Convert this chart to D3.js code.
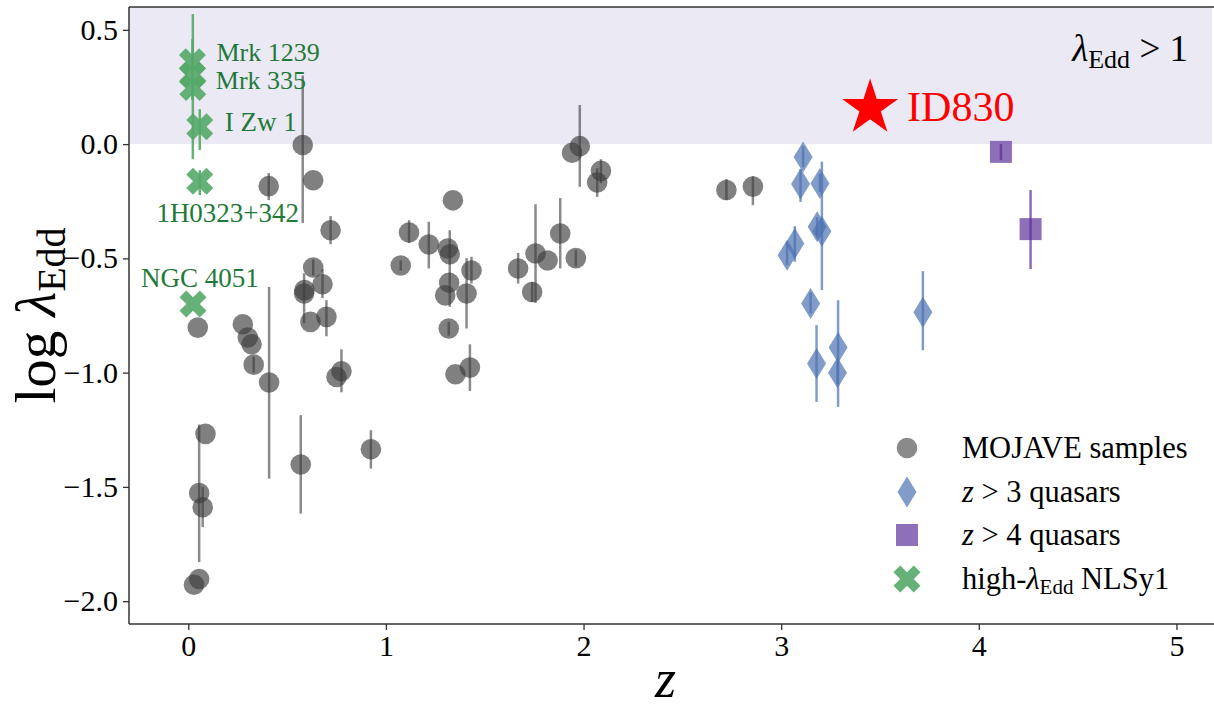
<!DOCTYPE html>
<html><head><meta charset="utf-8">
<script src="https://cdn.jsdelivr.net/npm/d3@7"></script>
<style>
body{margin:0;background:#fff;}
svg{display:block;font-family:"Liberation Serif","Times New Roman",serif;}
</style></head>
<body><svg id="c" width="1214" height="708"></svg>
<script>
// ---- data ----
const mojaveZ   = [0.048,0.055,0.029,0.055,0.073,0.087,0.407,0.579,0.632,0.720,0.632,0.679,0.588,0.586,0.618,0.699,0.775,0.750,0.276,0.301,0.320,0.331,0.409,0.569,0.924,1.339,1.117,1.217,1.313,1.323,1.075,1.433,1.320,1.300,1.408,1.318,1.425,1.352,1.981,1.942,2.088,2.069,1.882,1.757,1.818,1.961,1.669,1.740,2.723,2.857];
const mojaveLog = [-0.803,-1.903,-1.928,-1.527,-1.589,-1.268,-0.184,-0.004,-0.158,-0.377,-0.540,-0.613,-0.639,-0.654,-0.778,-0.756,-0.994,-1.019,-0.788,-0.846,-0.876,-0.965,-1.043,-1.402,-1.335,-0.246,-0.387,-0.439,-0.457,-0.482,-0.531,-0.553,-0.607,-0.662,-0.654,-0.807,-0.978,-1.007,-0.009,-0.038,-0.117,-0.168,-0.391,-0.479,-0.509,-0.499,-0.544,-0.647,-0.201,-0.186];
const mojaveLo  = [null,null,null,-1.829,-1.676,null,-0.245,-0.345,null,-0.438,-0.575,-0.674,null,-0.784,null,-0.841,-1.086,null,null,null,null,-1.000,-1.464,-1.617,-1.420,null,-0.433,-0.544,null,-0.712,-0.553,-0.610,null,null,-0.807,-0.838,-1.080,null,-0.187,null,-0.171,-0.231,-0.544,-0.695,null,-0.536,-0.610,-0.691,-0.245,-0.267];
const mojaveHi  = [null,null,null,-1.227,-1.500,null,-0.127,0.300,null,-0.315,-0.505,-0.547,null,-0.565,null,-0.683,-0.898,null,null,null,null,-0.930,-0.625,-1.186,-1.252,null,-0.333,-0.340,null,-0.377,-0.509,-0.493,null,null,-0.499,-0.778,-0.876,null,0.171,null,-0.066,-0.105,-0.236,-0.263,null,-0.463,-0.476,-0.603,-0.153,-0.140];

const z3Z   = [3.111,3.098,3.196,3.182,3.206,3.069,3.030,3.149,3.179,3.288,3.285,3.717];
const z3Log = [-0.056,-0.175,-0.172,-0.362,-0.381,-0.435,-0.486,-0.697,-0.960,-0.890,-1.001,-0.736];
const z3Lo  = [-0.100,-0.253,-0.210,-0.400,-0.639,-0.515,-0.530,-0.740,-1.128,-1.150,-1.050,-0.902];
const z3Hi  = [-0.010,-0.109,-0.130,-0.320,-0.077,-0.359,-0.440,-0.650,-0.792,-0.683,-0.950,-0.556];

const z4Z   = [4.112,4.262];
const z4Log = [-0.034,-0.372];
const z4Lo  = [-0.070,-0.547];
const z4Hi  = [0.000,-0.201];

const nlsZ     = [0.021,0.021,0.023,0.058,0.058,0.024];
const nlsLog   = [0.360,0.302,0.248,0.076,-0.162,-0.700];
const nlsLo    = [null,0.193,-0.066,-0.026,-0.223,null];
const nlsHi    = [null,0.460,0.569,0.153,-0.114,null];
const nlsNames = ["Mrk 1239","","Mrk 335","I Zw 1","1H0323+342","NGC 4051"];

const starZ = [3.45], starLog = [0.158], starName = ["ID830"];

const xTicks = [0,1,2,3,4,5];
const yTicks = [-2.0,-1.5,-1.0,-0.5,0.0,0.5];
const legendLabels = ["MOJAVE samples","z > 3 quasars","z > 4 quasars","high-λEdd NLSy1"];

// ---- layout ----
const svg = d3.select("#c");
const L=129,R=1212,T=7,B=624;
const x = d3.scaleLinear().domain([-0.3,5.18]).range([L,R]);
const y = d3.scaleLinear().domain([-2.1,0.6]).range([B,T]);

const cGray="#3c3c3c", cBlue="#4c72b0", cPurple="#7a57ad", cGreen="#55a868", cText="#1f7a3a";

// shaded region
svg.append("rect").attr("x",L).attr("width",R-L).attr("y",y(0.6)).attr("height",y(0)-y(0.6)).attr("fill","#eae9f4");

// error bars helper
function errbars(zs,ls,lo,hi,color,op){
  const idx=zs.map((d,i)=>i).filter(i=>lo[i]!=null);
  svg.append("g").selectAll("line").data(idx).join("line")
    .attr("x1",i=>x(zs[i])).attr("x2",i=>x(zs[i]))
    .attr("y1",i=>y(lo[i])).attr("y2",i=>y(hi[i]))
    .attr("stroke",color).attr("stroke-opacity",op).attr("stroke-width",2.5);
}

// MOJAVE
errbars(mojaveZ,mojaveLog,mojaveLo,mojaveHi,cGray,0.6);
svg.append("g").selectAll("circle").data(mojaveZ.map((d,i)=>i)).join("circle")
  .attr("cx",i=>x(mojaveZ[i])).attr("cy",i=>y(mojaveLog[i])).attr("r",10.3)
  .attr("fill",cGray).attr("fill-opacity",0.65);

// shapes
const diamondPath = (w,h)=>`M0,${-h/2}L${w/2},0L0,${h/2}L${-w/2},0Z`;
const xPath = s=>{const p=[[0.25,0],[0.5,0.25],[0.25,0.5],[0,0.25],[-0.25,0.5],[-0.5,0.25],[-0.25,0],[-0.5,-0.25],[-0.25,-0.5],[0,-0.25],[0.25,-0.5],[0.5,-0.25]];
  return "M"+p.map(q=>(q[0]*s)+","+(q[1]*s)).join("L")+"Z";};
const starPath = r=>{let pts=[];for(let k=0;k<10;k++){const rr=k%2?r*0.381966:r;const a=-Math.PI/2+k*Math.PI/5;pts.push([rr*Math.cos(a),rr*Math.sin(a)]);}
  return "M"+pts.map(p=>p.join(",")).join("L")+"Z";};

// z>3 quasars
svg.append("g").selectAll("path").data(z3Z.map((d,i)=>i)).join("path")
  .attr("d",diamondPath(19,31)).attr("transform",i=>`translate(${x(z3Z[i])},${y(z3Log[i])})`)
  .attr("fill",cBlue).attr("fill-opacity",0.7);
errbars(z3Z,z3Log,z3Lo,z3Hi,cBlue,0.7);

// z>4 quasars
svg.append("g").selectAll("rect").data(z4Z.map((d,i)=>i)).join("rect")
  .attr("x",i=>x(z4Z[i])-11).attr("y",i=>y(z4Log[i])-11).attr("width",22).attr("height",22)
  .attr("fill",cPurple).attr("fill-opacity",0.85);
errbars(z4Z,z4Log,z4Lo,z4Hi,"#5b2d9a",0.7);

// NLSy1
svg.append("g").selectAll("path").data(nlsZ.map((d,i)=>i)).join("path")
  .attr("d",xPath(27)).attr("transform",i=>`translate(${x(nlsZ[i])},${y(nlsLog[i])})`)
  .attr("fill",cGreen).attr("fill-opacity",0.9);
errbars(nlsZ,nlsLog,nlsLo,nlsHi,cGreen,0.9);

// NLSy1 labels
const labOff = {"Mrk 1239":[24,-1,"start",26],"Mrk 335":[23,1.5,"start",26],"I Zw 1":[25,4,"start",27],"1H0323+342":[28,41,"middle",27],"NGC 4051":[-52,-17,"start",27]};
nlsNames.forEach((n,i)=>{ if(!n) return; const o=labOff[n];
  svg.append("text").attr("x",x(nlsZ[i])+o[0]).attr("y",y(nlsLog[i])+o[1]).attr("text-anchor",o[2])
    .attr("font-size",o[3]).attr("fill",cText).text(n);});

// star
svg.append("path").attr("d",starPath(29.5)).attr("transform",`translate(${x(starZ[0])},${y(starLog[0])})`).attr("fill","#ff0000");
svg.append("text").attr("x",x(starZ[0])+37).attr("y",y(starLog[0])+13).attr("font-size",42).attr("fill","#ff0000").text(starName[0]);

// lambda > 1 label
const lt = svg.append("text").attr("x",1188).attr("y",61).attr("text-anchor","end").attr("font-size",37).attr("fill","#000");
lt.append("tspan").attr("font-style","italic").text("λ");
lt.append("tspan").attr("font-size",26).attr("dy",7).text("Edd");
lt.append("tspan").attr("dy",-7).text(" > 1");

// axes
const yAxis = svg.append("g").attr("transform",`translate(${L},0)`)
  .call(d3.axisLeft(y).tickValues(yTicks).tickFormat(d3.format(".1f")).tickSize(6).tickPadding(5));
const xAxis = svg.append("g").attr("transform",`translate(0,${B})`)
  .call(d3.axisBottom(x).tickValues(xTicks).tickFormat(d3.format("d")).tickSize(6).tickPadding(5));
[yAxis,xAxis].forEach(g=>{g.select(".domain").remove();
  g.selectAll(".tick line").attr("stroke","#333").attr("stroke-width",1.3);
  g.selectAll("text").attr("font-size",30).attr("font-family","Liberation Serif").attr("fill","#000");});
// spines
svg.append("line").attr("x1",L).attr("x2",L).attr("y1",T).attr("y2",B).attr("stroke","#333").attr("stroke-width",1.5);
svg.append("line").attr("x1",L).attr("x2",R+2).attr("y1",B).attr("y2",B).attr("stroke","#333").attr("stroke-width",1.5);
svg.append("line").attr("x1",L).attr("x2",R+2).attr("y1",T).attr("y2",T).attr("stroke","#333").attr("stroke-width",1.5);

// axis labels
svg.append("text").attr("x",(L+R)/2-5).attr("y",697).attr("text-anchor","middle").attr("font-size",54).attr("font-style","italic").text("z");
const yl = svg.append("text").attr("transform",`translate(55,${(T+B)/2}) rotate(-90)`).attr("text-anchor","middle").attr("font-size",57);
yl.append("tspan").text("log ");
yl.append("tspan").attr("font-style","italic").text("λ");
yl.append("tspan").attr("font-size",40).attr("dy",10).text("Edd");

// legend
const legY=[448,492,535,579], legX=907;
const lg=svg.append("g");
lg.append("circle").attr("cx",legX).attr("cy",legY[0]).attr("r",10.3).attr("fill",cGray).attr("fill-opacity",0.6);
lg.append("path").attr("d",diamondPath(19,31)).attr("transform",`translate(${legX},${legY[1]})`).attr("fill",cBlue).attr("fill-opacity",0.7);
lg.append("rect").attr("x",legX-11).attr("y",legY[2]-11).attr("width",22).attr("height",22).attr("fill",cPurple).attr("fill-opacity",0.85);
lg.append("path").attr("d",xPath(27)).attr("transform",`translate(${legX},${legY[3]})`).attr("fill",cGreen).attr("fill-opacity",0.9);
legendLabels.forEach((t,i)=>{
  const tx=lg.append("text").attr("x",962).attr("y",legY[i]+10).attr("font-size",30.5);
  if(i===1||i===2){tx.append("tspan").attr("font-style","italic").text("z");tx.append("tspan").text(t.slice(1));}
  else if(i===3){tx.append("tspan").text("high-");tx.append("tspan").attr("font-style","italic").text("λ");
    tx.append("tspan").attr("font-size",21).attr("dy",5).text("Edd");tx.append("tspan").attr("dy",-5).text(" NLSy1");}
  else tx.text(t);
});
</script></body></html>
